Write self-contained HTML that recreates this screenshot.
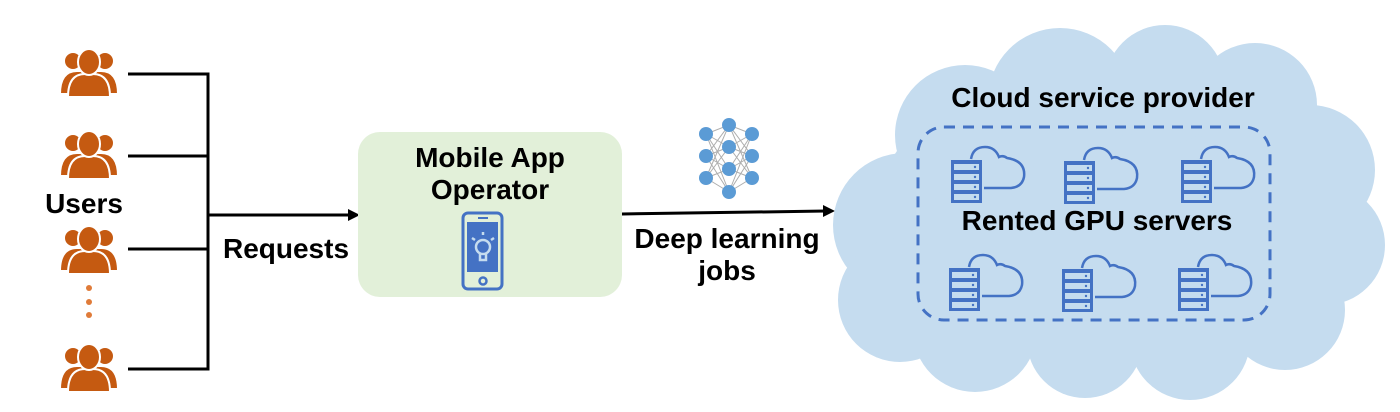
<!DOCTYPE html>
<html><head><meta charset="utf-8"><style>
html,body{margin:0;padding:0;background:#fff;}
svg{display:block;}
text{font-family:"Liberation Sans",Arial,sans-serif;font-weight:bold;fill:#000;}
</style></head><body>
<svg width="1400" height="412" viewBox="0 0 1400 412" xmlns="http://www.w3.org/2000/svg">
<defs>
<g id="user">
  <g fill="#c55a11" stroke="#fff" stroke-width="2">
    <circle cx="-16" cy="-11" r="9"/>
    <circle cx="16" cy="-11" r="9"/>
    <path d="M-29 22 Q-29 -1 -12 -1 L12 -1 Q29 -1 29 22 Z"/>
    <path d="M-21 25 Q-21 2 -4 2 L4 2 Q21 2 21 25 Z"/>
    <ellipse cx="0" cy="-10" rx="11" ry="13"/>
  </g>
</g>
<g id="srv">
  <rect x="0" y="13" width="31" height="43" fill="#4472c4"/>
  <g fill="#c5dcef">
    <rect x="3" y="17" width="25" height="6"/><rect x="3" y="27" width="25" height="6"/>
    <rect x="3" y="37" width="25" height="6"/><rect x="3" y="47" width="25" height="6"/>
  </g>
  <g fill="#4472c4"><circle cx="24" cy="20" r="1.2"/><circle cx="24" cy="30" r="1.2"/><circle cx="24" cy="40" r="1.2"/><circle cx="24" cy="50" r="1.2"/></g>
  <path d="M20 12 Q22 0 34 0 Q44 0 48 10 Q52 8 56 11 Q75 14 73 30 Q71 40 60 41 L33 41" fill="none" stroke="#4472c4" stroke-width="2.5"/>
</g>
</defs>

<use href="#user" x="89" y="72"/>
<use href="#user" x="89" y="154"/>
<use href="#user" x="89" y="249"/>
<use href="#user" x="89" y="367"/>
<g fill="#e07b39"><circle cx="89" cy="288" r="3"/><circle cx="89" cy="302" r="3"/><circle cx="89" cy="315" r="3"/></g>
<text x="84" y="213" font-size="28" text-anchor="middle">Users</text>

<g stroke="#000" stroke-width="3" fill="none">
  <path d="M128 74 H208 V369 H128"/>
  <path d="M128 156 H208"/>
  <path d="M128 249 H208"/>
  <path d="M208 215 H350"/>
  <path d="M622 214 L826 211"/>
</g>
<path d="M360 215 L348 209 L348 221 Z" fill="#000"/>
<path d="M835 211 L823 205 L823 217 Z" fill="#000"/>
<text x="286" y="258" font-size="28" text-anchor="middle">Requests</text>

<rect x="358" y="132" width="264" height="165" rx="22" fill="#e2f0d9"/>
<text x="490" y="167" font-size="28" text-anchor="middle">Mobile App</text>
<text x="490" y="199" font-size="28" text-anchor="middle">Operator</text>
<g>
  <rect x="463" y="213" width="39" height="76" rx="5" fill="none" stroke="#4472c4" stroke-width="3"/>
  <rect x="467" y="222" width="31" height="50" fill="#4472c4"/>
  <circle cx="483" cy="281" r="3.5" fill="none" stroke="#4472c4" stroke-width="2.5"/>
  <line x1="478" y1="218" x2="488" y2="218" stroke="#4472c4" stroke-width="2"/>
  <g stroke="#c5dcef" stroke-width="2.5" fill="none">
    <circle cx="483" cy="247" r="7"/>
    <path d="M480 254 V260 H486 V254"/>
    <path d="M483 232 V235 M472 238 L475 240 M494 238 L491 240"/>
  </g>
</g>

<g stroke="#999" stroke-width="1" opacity="0.8">
  <path d="M706 134 L729 125 M706 134 L729 147 M706 134 L729 169 M706 134 L729 192 M706 156 L729 125 M706 156 L729 147 M706 156 L729 169 M706 156 L729 192 M706 178 L729 125 M706 178 L729 147 M706 178 L729 169 M706 178 L729 192"/>
  <path d="M752 134 L729 125 M752 134 L729 147 M752 134 L729 169 M752 134 L729 192 M752 156 L729 125 M752 156 L729 147 M752 156 L729 169 M752 156 L729 192 M752 178 L729 125 M752 178 L729 147 M752 178 L729 169 M752 178 L729 192"/>
</g>
<g fill="#5b9bd5">
  <circle cx="706" cy="134" r="7"/><circle cx="706" cy="156" r="7"/><circle cx="706" cy="178" r="7"/>
  <circle cx="729" cy="125" r="7"/><circle cx="729" cy="147" r="7"/><circle cx="729" cy="169" r="7"/><circle cx="729" cy="192" r="7"/>
  <circle cx="752" cy="134" r="7"/><circle cx="752" cy="156" r="7"/><circle cx="752" cy="178" r="7"/>
</g>
<text x="727" y="248" font-size="28" text-anchor="middle">Deep learning</text>
<text x="727" y="280" font-size="28" text-anchor="middle">jobs</text>

<g fill="#c5dcef">
  <ellipse cx="1105" cy="215" rx="230" ry="150"/>
  <circle cx="905" cy="225" r="72"/>
  <circle cx="900" cy="300" r="62"/>
  <circle cx="965" cy="135" r="70"/>
  <circle cx="1060" cy="100" r="72"/>
  <circle cx="1165" cy="85" r="60"/>
  <circle cx="1255" cy="105" r="62"/>
  <circle cx="1310" cy="170" r="65"/>
  <circle cx="1325" cy="245" r="60"/>
  <circle cx="1285" cy="310" r="60"/>
  <circle cx="1190" cy="340" r="60"/>
  <circle cx="1085" cy="340" r="58"/>
  <circle cx="975" cy="330" r="62"/>
</g>
<text x="1103" y="107" font-size="28" text-anchor="middle">Cloud service provider</text>
<rect x="918" y="127" width="352" height="193" rx="26" fill="none" stroke="#4472c4" stroke-width="3" stroke-dasharray="11 8"/>
<text x="1097" y="230" font-size="28" text-anchor="middle">Rented GPU servers</text>
<use href="#srv" x="951" y="147"/>
<use href="#srv" x="1064" y="148"/>
<use href="#srv" x="1181" y="147"/>
<use href="#srv" x="949" y="255"/>
<use href="#srv" x="1062" y="256"/>
<use href="#srv" x="1178" y="255"/>
</svg>
</body></html>
